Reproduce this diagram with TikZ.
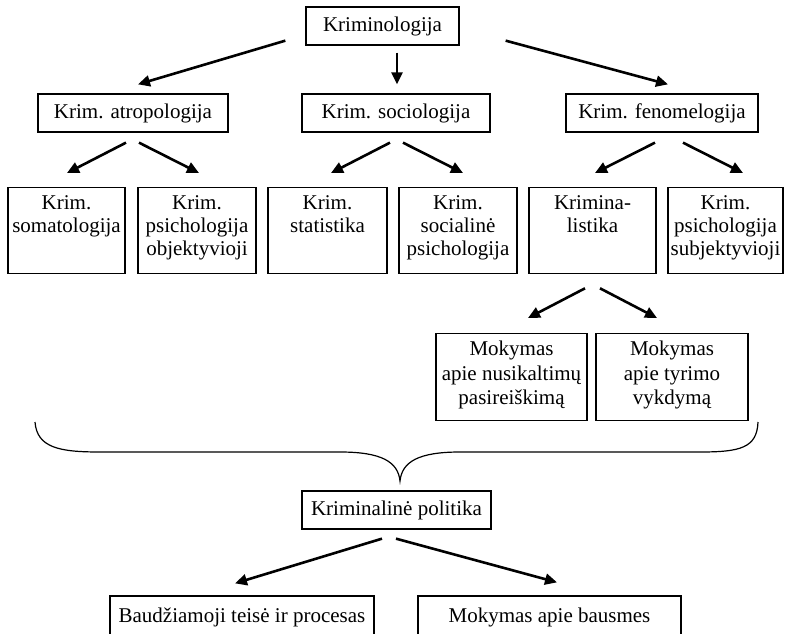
\documentclass[tikz,border=0pt]{standalone}
\usepackage{fontspec}
\setmainfont{Liberation Serif}
\usetikzlibrary{positioning,calc,arrows.meta}
\newcommand\lns[1]{\begin{tabular}[t]{@{}c@{}}#1\end{tabular}}

\begin{document}
\begin{tikzpicture}[x=1pt,y=-1pt,
  every node/.style={draw,line width=1.3pt,inner sep=2pt,font=\fontsize{21}{23}\selectfont},
  box/.style={minimum height=38},
  tall/.style={anchor=north,text height=20pt,text depth=62pt},
  arr/.style={line width=2.6pt,-{Triangle[length=12pt,width=11pt]}}]

\useasboundingbox (0,0) rectangle (785,634);
\clip (0,0) rectangle (785,634);

\node[box,minimum width=153](krim) at (382.5,26) {Kriminologija};
\node[box,minimum width=190](atrop) at (133,113) {Krim. atropologija};
\node[box,minimum width=188](soc) at (396,113) {Krim. sociologija};
\node[box,minimum width=192](fen) at (662,113) {Krim. fenomelogija};

\node[tall,minimum width=117](soma) at (66.5,187) {\lns{Krim.\\somatologija}};
\node[tall,minimum width=118](objekt) at (197,187) {\lns{Krim.\\psichologija\\objektyvioji}};
\node[tall,minimum width=119](stat) at (327.5,187) {\lns{Krim.\\statistika}};
\node[tall,minimum width=118](social) at (458,187) {\lns{Krim.\\socialinė\\psichologija}};
\node[tall,minimum width=127](krlist) at (592.5,187) {\lns{Krimina-\\listika}};
\node[tall,minimum width=115](subj) at (725.5,187) {\lns{Krim.\\psichologija\\subjektyvioji}};

\node[tall,minimum width=151,text depth=63pt,font=\fontsize{21}{24.5}\selectfont](mok1) at (511.5,333) {\lns{Mokymas\\apie nusikaltimų\\pasireiškimą}};
\node[tall,minimum width=152,text depth=63pt,font=\fontsize{21}{24.5}\selectfont](mok2) at (672,333) {\lns{Mokymas\\apie tyrimo\\vykdymą}};

\node[box,minimum width=189](pol) at (396.5,510) {Kriminalinė politika};
\node[minimum width=264,minimum height=42](baud) at (242,617) {Baudžiamoji teisė ir procesas};
\node[minimum width=263,minimum height=42](baus) at (549.5,617) {Mokymas apie bausmes};

\foreach \a/\ax/\ay/\b/\bx/\by in {krim.south west/-20/-5/atrop.north/5/-9,
  krim.south/14.5/7/soc.north/1/-9, krim.south east/46/-5/fen.north/6/-9,
  atrop.south/-7/10/soma.north/0.5/-14, atrop.south/6/10/objekt.north/2/-14,
  soc.south/-6/10/stat.north/3.5/-14, soc.south/7/10/social.north/5/-14,
  fen.south/-7/10/krlist.north/2.5/-14, fen.south/21/10/subj.north/17.5/-14,
  krlist.south/-7.5/14/mok1.north/16.5/-15, krlist.south/7.5/14/mok2.north/-15/-15,
  pol.south/-14.5/9/baud.north/-7/-12, pol.south/-0.5/9/baus.north/7.5/-13}{
	\draw[arr]($(\a)+(\ax,\ay)$)--($(\b)+(\bx,\by)$);
}

\draw[line width=1.2pt](35,422) .. controls (37,448) and (60,452) .. (100,452) -- (340,452)
  .. controls (382,452) and (398,462) .. (400,481)
  .. controls (402,462) and (418,452) .. (460,452) -- (700,452)
  .. controls (740,452) and (757,448) .. (758,422);

\end{tikzpicture}
\end{document}
